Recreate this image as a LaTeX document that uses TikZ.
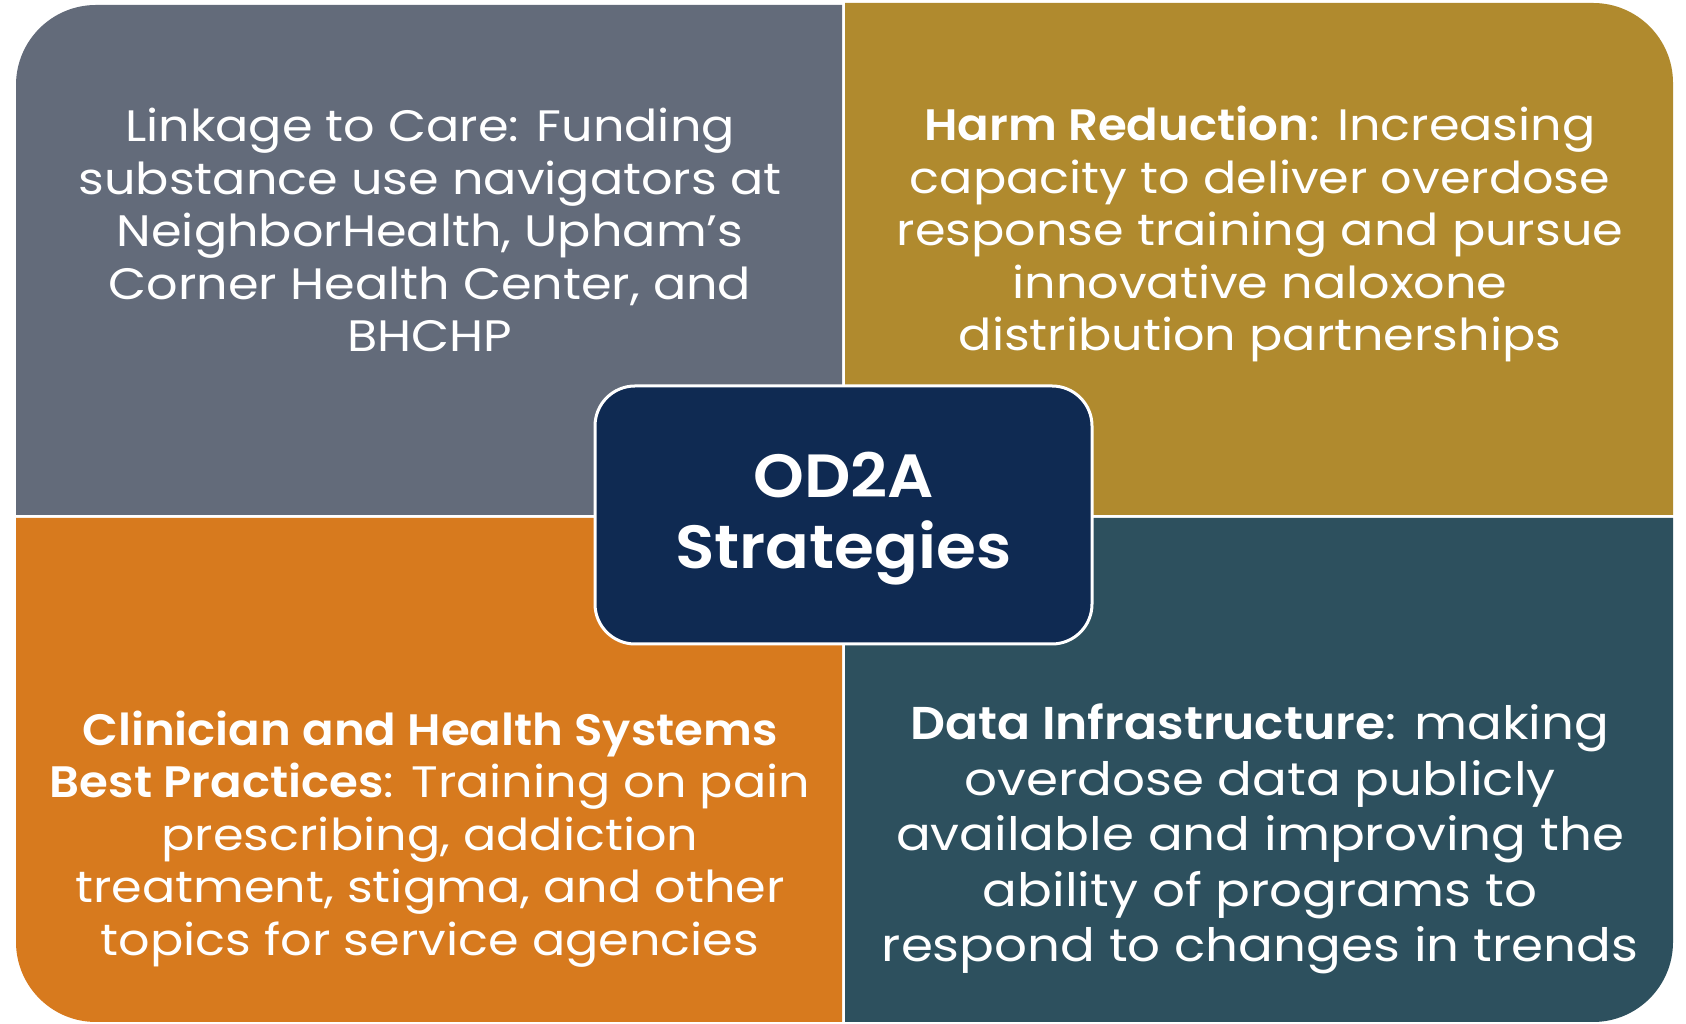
\documentclass[tikz,border=0pt]{standalone}
\usepackage{fontspec}
\setmainfont{Poppins}[FakeStretch=1.12,BoldFont={Poppins SemiBold},BoldFeatures={FakeStretch=1.06}]
\begin{document}
\begin{tikzpicture}[x=1pt,y=1pt,
  quadtext/.style={text=white,align=center,font={\fontsize{44}{52.5}\selectfont}},
  hubbox/.style={draw=white,line width=3pt,fill=navy,rounded corners=40pt,
    minimum width=497pt,minimum height=258pt},
  hubtext/.style={text=white,align=center,font={\fontsize{61}{71}\selectfont\bfseries}}]
\definecolor{slate}{HTML}{636B7A}
\definecolor{gold}{HTML}{B08A2E}
\definecolor{amber}{HTML}{D77A1E}
\definecolor{teal}{HTML}{2D505E}
\definecolor{navy}{HTML}{0F2A52}
\useasboundingbox (0,0) rectangle (1686,1024);
\fill[white] (0,0) rectangle (1686,1024);
% four quadrants, each with one rounded outer corner
\fill[slate] (16,509) -- (16,939) arc[start angle=180,end angle=90,radius=80] -- (842,1019) -- (842,509) -- cycle;
\fill[gold] (845,509) -- (845,1021) -- (1593,1021) arc[start angle=90,end angle=0,radius=80] -- (1673,509) -- cycle;
\fill[amber] (16,506) -- (16,82) arc[start angle=180,end angle=270,radius=80] -- (842,2) -- (842,506) -- cycle;
\fill[teal] (845,506) -- (845,2) -- (1593,2) arc[start angle=270,end angle=360,radius=80] -- (1673,506) -- cycle;
% quadrant texts
\node[quadtext] (linkage) at (430,794) {Linkage to Care: Funding\\substance use navigators at\\NeighborHealth, Upham’s\\Corner Health Center, and\\BHCHP};
\node[quadtext] (harm) at (1260,790) {\textbf{Harm Reduction}: Increasing\\capacity to deliver overdose\\response training and pursue\\innovative naloxone\\distribution partnerships};
\node[quadtext] (clinician) at (430,185) {\textbf{Clinician and Health Systems}\\\textbf{Best Practices}: Training on pain\\prescribing, addiction\\treatment, stigma, and other\\topics for service agencies};
\node[quadtext,font={\fontsize{46}{55.5}\selectfont}] (data) at (1260,185) {\textbf{Data Infrastructure}: making\\overdose data publicly\\available and improving the\\ability of programs to\\respond to changes in trends};
% central hub
\node[hubbox] (hub) at (843.5,509) {};
\node[hubtext] (hublabel) at ([yshift=-4pt]hub.center) {OD2A\\Strategies};
\end{tikzpicture}
\end{document}
